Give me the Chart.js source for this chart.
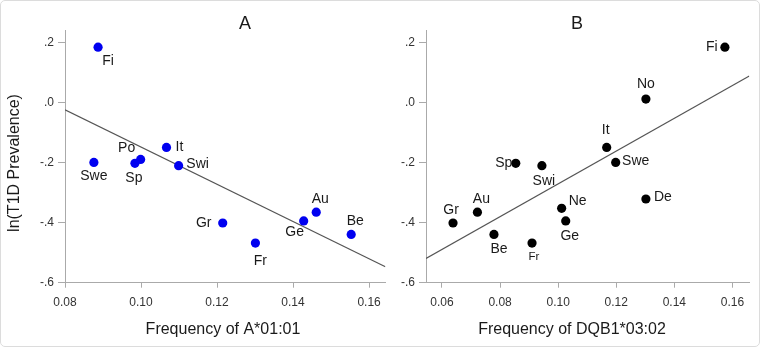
<!DOCTYPE html>
<html>
<head>
<meta charset="utf-8">
<script src="https://cdn.jsdelivr.net/npm/chart.js@4.4.1/dist/chart.umd.min.js"></script>
<style>
  body { margin: 0; background: #fff; }
  #wrap { position: relative; width: 760px; height: 347px; overflow: hidden; }
  #frame { position: absolute; left: 0; top: 0; width: 760px; height: 347px; box-sizing: border-box;
           border: 1px solid #dcdcdc; border-radius: 5px; pointer-events: none; }
  #chartA { position: absolute; left: 0; top: 0; }
  #chartB { position: absolute; left: 390px; top: 0; }
</style>
</head>
<body>
<div id="wrap">
  <canvas id="chartA" width="390" height="347"></canvas>
  <canvas id="chartB" width="370" height="347"></canvas>
  <div id="frame"></div>
</div>
<script>
const FONT = '"Liberation Sans", Arial, sans-serif';

// panel A: A*01:01 frequency vs ln(T1D prevalence)
const countriesA = ['Fi', 'Swe', 'Sp', 'Po', 'It', 'Swi', 'Gr', 'Fr', 'Ge', 'Au', 'Be'];
const freqA = [0.0887, 0.0876, 0.0984, 0.0999, 0.1067, 0.1099, 0.1215, 0.1301, 0.1428, 0.1461, 0.1553];
const prevA = [0.185, -0.199, -0.202, -0.189, -0.149, -0.210, -0.401, -0.468, -0.394, -0.365, -0.439];
const fitXA = [0.08, 0.1643];
const fitYA = [-0.024, -0.547];

// panel B: DQB1*03:02 frequency
const countriesB = ['Fi', 'No', 'It', 'Swe', 'De', 'Sp', 'Swi', 'Ne', 'Ge', 'Gr', 'Au', 'Be', 'Fr'];
const freqB = [0.1574, 0.1302, 0.1167, 0.1198, 0.1302, 0.0854, 0.0944, 0.1012, 0.1026, 0.0638, 0.0722, 0.0779, 0.0910];
const prevB = [0.185, 0.012, -0.149, -0.199, -0.321, -0.202, -0.210, -0.352, -0.394, -0.401, -0.365, -0.439, -0.468];
const fitXB = [0.0545, 0.1658];
const fitYB = [-0.519, 0.089];

const yTicks = [-0.6, -0.4, -0.2, 0, 0.2];
const yTickLabels = ['-.6', '-.4', '-.2', '.0', '.2'];
const xTicksA = [0.08, 0.10, 0.12, 0.14, 0.16];
const xTickLabelsA = ['0.08', '0.10', '0.12', '0.14', '0.16'];
const xTicksB = [0.06, 0.08, 0.10, 0.12, 0.14, 0.16];
const xTickLabelsB = ['0.06', '0.08', '0.10', '0.12', '0.14', '0.16'];

// where each country name sits relative to its dot (px)
const labelOffsetA = {
  Fi: [10, 14], Swe: [0, 14], Sp: [-1, 15], Po: [-14, -11], It: [13, 0], Swi: [19, -2],
  Gr: [-19, 0], Fr: [5, 18], Ge: [-9, 11], Au: [4, -13], Be: [4, -13]
};
const labelOffsetB = {
  Fi: [-13, 0], No: [0, -15], It: [-1, -17], Swe: [20, -1], De: [17, -2], Sp: [-12, 0],
  Swi: [2, 15], Ne: [16, -7], Ge: [4, 15], Gr: [-2, -13], Au: [4, -13], Be: [5, 15], Fr: [2, 14]
};

const pointLabels = {
  id: 'pointLabels',
  afterDatasetsDraw(chart, args, opts) {
    const ctx = chart.ctx;
    const meta = chart.getDatasetMeta(0);
    ctx.save();
    ctx.fillStyle = '#1a1a1a';
    ctx.textAlign = 'center';
    ctx.textBaseline = 'middle';
    meta.data.forEach((pt, i) => {
      const name = opts.names[i];
      const off = opts.offsets[name];
      const size = name === opts.smallName ? 11.5 : 14;
      ctx.font = size + 'px ' + FONT;
      ctx.fillText(name, pt.x + off[0], pt.y + off[1]);
    });
    ctx.restore();
  }
};

// panel letter and axis captions
const captions = {
  id: 'captions',
  afterDraw(chart, args, opts) {
    const ctx = chart.ctx;
    opts.items.forEach(c => {
      ctx.save();
      ctx.translate(c.x, c.y);
      if (c.rotate) ctx.rotate(c.rotate);
      ctx.font = c.size + 'px ' + FONT;
      ctx.fillStyle = '#1a1a1a';
      ctx.textAlign = 'center';
      ctx.textBaseline = 'middle';
      ctx.fillText(c.text, 0, 0);
      ctx.restore();
    });
  }
};

function makeScales(xMin, xMax, xTicks, xLabels, yWidth) {
  return {
    x: {
      type: 'linear',
      min: xMin,
      max: xMax,
      afterBuildTicks: s => { s.ticks = xTicks.map(v => ({ value: v })); },
      afterFit: s => { s.height = 64.3; },
      ticks: {
        callback: (v, i) => xLabels[i],
        padding: 8, color: '#333', maxRotation: 0, autoSkip: false,
        font: { size: 12, family: FONT }
      },
      grid: { drawOnChartArea: false, tickLength: 5, color: '#aaa' },
      border: { color: '#aaa' }
    },
    y: {
      type: 'linear',
      min: -0.6,
      max: 0.24,
      afterBuildTicks: s => { s.ticks = yTicks.map(v => ({ value: v })); },
      afterFit: s => { s.width = yWidth; },
      ticks: {
        callback: (v, i) => yTickLabels[i],
        padding: 4, color: '#333', autoSkip: false,
        font: { size: 12, family: FONT }
      },
      grid: { drawOnChartArea: false, tickLength: 7, color: '#aaa' },
      border: { color: '#aaa' }
    }
  };
}

function makeChart(id, opt) {
  return new Chart(document.getElementById(id), {
    type: 'scatter',
    data: {
      datasets: [
        {
          data: opt.xs.map((x, i) => ({ x: x, y: opt.ys[i] })),
          backgroundColor: opt.color,
          borderWidth: 0,
          pointRadius: 4.6
        },
        {
          data: opt.fitX.map((x, i) => ({ x: x, y: opt.fitY[i] })),
          showLine: true,
          pointRadius: 0,
          borderColor: '#555',
          borderWidth: 1.2
        }
      ]
    },
    options: {
      responsive: false,
      animation: false,
      layout: { padding: { left: 0, right: opt.padRight, top: 30.7, bottom: 0 } },
      scales: makeScales(opt.xMin, opt.xMax, opt.xTicks, opt.xLabels, opt.yWidth),
      plugins: {
        legend: { display: false },
        tooltip: { enabled: false },
        pointLabels: { names: opt.names, offsets: opt.offsets, smallName: opt.smallName },
        captions: { items: opt.captions }
      }
    },
    plugins: [pointLabels, captions]
  });
}

makeChart('chartA', {
  xs: freqA, ys: prevA, fitX: fitXA, fitY: fitYA, color: '#0000f0',
  names: countriesA, offsets: labelOffsetA, smallName: '',
  xMin: 0.08, xMax: 0.1643, xTicks: xTicksA, xLabels: xTickLabelsA,
  yWidth: 65, padRight: 2,
  captions: [
    { text: 'A', x: 245, y: 24, size: 18 },
    { text: 'Frequency of A*01:01', x: 223, y: 330, size: 16 },
    { text: 'ln(T1D Prevalence)', x: 15, y: 163, size: 16, rotate: -Math.PI / 2 }
  ]
});

makeChart('chartB', {
  xs: freqB, ys: prevB, fitX: fitXB, fitY: fitYB, color: '#000',
  names: countriesB, offsets: labelOffsetB, smallName: 'Fr',
  xMin: 0.0545, xMax: 0.1658, xTicks: xTicksB, xLabels: xTickLabelsB,
  yWidth: 36, padRight: 10.7,
  captions: [
    { text: 'B', x: 187, y: 24, size: 18 },
    { text: 'Frequency of DQB1*03:02', x: 182, y: 330, size: 16 }
  ]
});
</script>
</body>
</html>
